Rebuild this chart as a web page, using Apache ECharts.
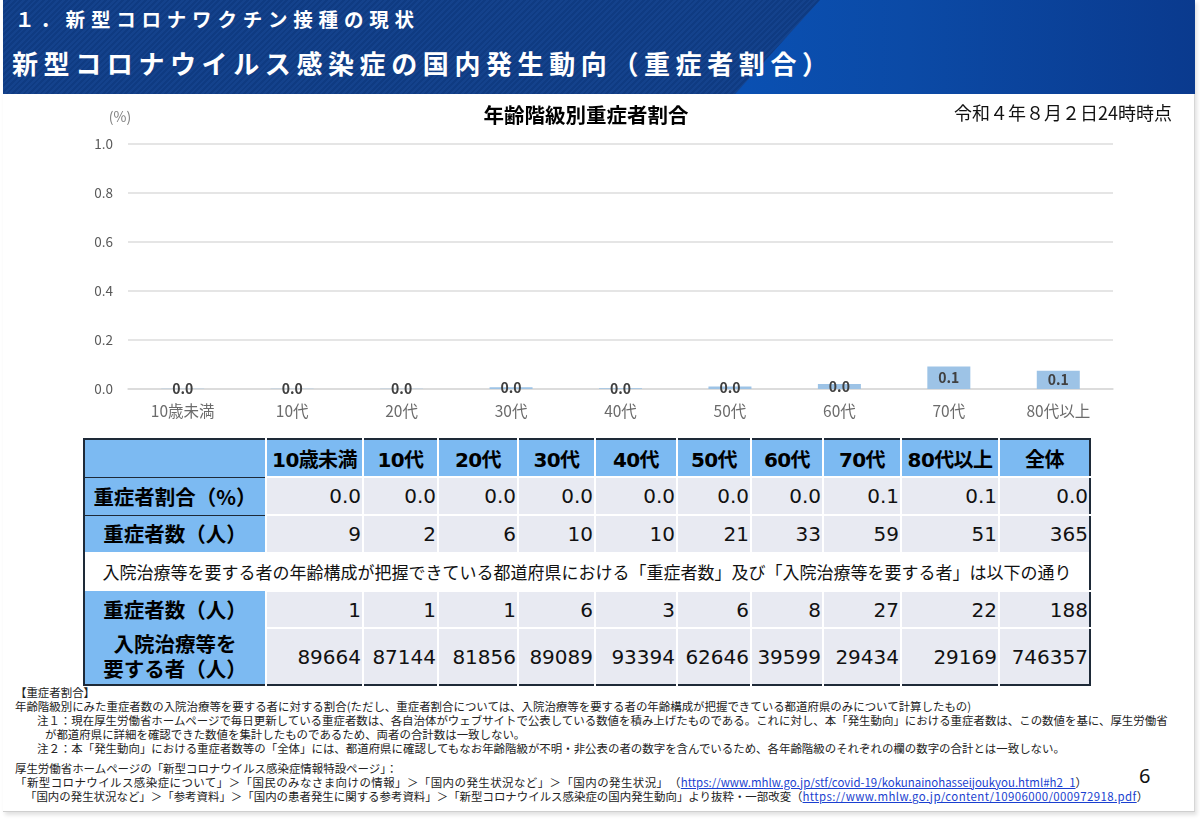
<!DOCTYPE html>
<html lang="ja">
<head>
<meta charset="utf-8">
<title>重症者割合</title>
<script src="https://cdn.jsdelivr.net/npm/echarts@6/dist/echarts.min.js"></script>
<style>
  html, body { margin: 0; padding: 0; background: #fff; }
  body { width: 1200px; height: 823px; position: relative; overflow: hidden;
         font-family: "Noto Sans CJK JP", "Noto Sans", sans-serif; color: #111; }
  .slide { position: absolute; left: 3px; top: 0; width: 1191px; height: 811px;
           border-right: 1px solid #d6d6d6; border-bottom: 1px solid #cfcfcf;
           box-shadow: 2px 3px 4px rgba(0,0,0,0.12); background: #fff; }
  .band { position: absolute; left: 3px; top: 0; width: 1192px; height: 94px;
          background: linear-gradient(90deg, #0b48a4 0%, #0a50b2 62%, #0b4aa6 76%, #0a3a8e 100%); }
  .hatch { position: absolute; left: 0; top: 0; width: 100%; height: 100%;
           clip-path: polygon(0 0, 817px 0, 732px 94px, 0 94px);
           background: repeating-linear-gradient(135deg, #0f3b82 0 2px, #14428c 2px 4px); }
  .h1 { position: absolute; left: 15px; top: 6px; color: #fff; font-weight: bold;
        font-size: 19.5px; letter-spacing: 5.8px; line-height: 26px; white-space: nowrap; }
  .h2 { position: absolute; left: 12px; top: 47px; color: #fff; font-weight: bold;
        font-size: 26px; letter-spacing: 5.6px; line-height: 32px; white-space: nowrap; }
  #chart { position: absolute; left: 0; top: 95px; width: 1200px; height: 340px; }
  table { position: absolute; left: 83px; top: 438px; width: 1006px; border-collapse: collapse;
          table-layout: fixed; border: 2px solid #1e2a38; }
  td { padding: 0 3px; overflow: hidden; white-space: nowrap; box-sizing: border-box; }
  td.rh { background: #7cbaf2; color: #000; font-weight: bold; font-size: 20.5px; text-align: center;
          border-right: 1.5px solid #1e2a38; line-height: 25px; }
  td.ch { background: #7cbaf2; color: #000; font-weight: bold; font-size: 20px; text-align: center;
          border-left: 2px solid #fff; padding: 0 1px;
          font-family: "DejaVu Sans", "Noto Sans CJK JP", sans-serif; letter-spacing: -0.6px; }
  td.v { background: #e8eaf2; color: #111; font-size: 20px; text-align: right;
         border-left: 2px solid #fff; border-top: 2px solid #fff;
         font-family: "DejaVu Sans", sans-serif; padding-right: 1px; }
  tr.hdr td { border-bottom: 1.2px solid #1e2a38; }
  tr.r1 td { border-bottom: 1.5px solid #1e2a38; }
  td.note { background: #fff; text-align: center; font-size: 17px; color: #111; }
  .notes div { position: absolute; font-size: 11.45px; line-height: 14px; color: #222; white-space: nowrap; }
  .notes a { color: #1a3fd0; text-decoration: underline; }
  .pg { position: absolute; left: 1139px; top: 762px; font-size: 20px; color: #111;
        font-family: "Noto Sans", sans-serif; }
</style>
</head>
<body>
<div class="slide"></div>
<div class="band"><div class="hatch"></div></div>
<div class="h1">１．新型コロナワクチン接種の現状</div>
<div class="h2">新型コロナウイルス感染症の国内発生動向（重症者割合）</div>
<div id="chart"></div>
<table id="tbl"></table>
<div class="notes">
  <div style="left:15px;top:685px">【重症者割合】</div>
  <div style="left:15px;top:699px">年齢階級別にみた重症者数の入院治療等を要する者に対する割合(ただし、重症者割合については、入院治療等を要する者の年齢構成が把握できている都道府県のみについて計算したもの)</div>
  <div style="left:37px;top:713px">注１：現在厚生労働省ホームページで毎日更新している重症者数は、各自治体がウェブサイトで公表している数値を積み上げたものである。これに対し、本「発生動向」における重症者数は、この数値を基に、厚生労働省</div>
  <div style="left:45px;top:727px">が都道府県に詳細を確認できた数値を集計したものであるため、両者の合計数は一致しない。</div>
  <div style="left:37px;top:741px">注２：本「発生動向」における重症者数等の「全体」には、都道府県に確認してもなお年齢階級が不明・非公表の者の数字を含んでいるため、各年齢階級のそれぞれの欄の数字の合計とは一致しない。</div>
  <div style="left:15px;top:761px">厚生労働省ホームページの「新型コロナウイルス感染症情報特設ページ」：</div>
  <div style="left:15px;top:775px"><span style="letter-spacing:0.45px">「新型コロナウイルス感染症について」＞「国民のみなさま向けの情報」＞「国内の発生状況など」＞「国内の発生状況」　（</span><a>https://www.mhlw.go.jp/stf/covid-19/kokunainohasseijoukyou.html#h2_1</a>）</div>
  <div style="left:25px;top:789px">「国内の発生状況など」＞「参考資料」＞「国内の患者発生に関する参考資料」＞「新型コロナウイルス感染症の国内発生動向」より抜粋・一部改変（<a style="letter-spacing:0.4px">https://www.mhlw.go.jp/content/10906000/000972918.pdf</a>）</div>
</div>
<div class="pg">6</div>
<script>
// 年齢階級
var ageGroups = ['10歳未満', '10代', '20代', '30代', '40代', '50代', '60代', '70代', '80代以上'];
// 重症者割合（%）グラフ用
var severeRatio = [0.001, 0.001, 0.001, 0.007, 0.003, 0.010, 0.020, 0.092, 0.075];
var yTicks = [0, 0.2, 0.4, 0.6, 0.8, 1.0];

// 表
var tableCols = ageGroups.concat(['全体']);
var ratioRow = [0.0, 0.0, 0.0, 0.0, 0.0, 0.0, 0.0, 0.1, 0.1, 0.0];
var severeAll = [9, 2, 6, 10, 10, 21, 33, 59, 51, 365];
var severeKnown = [1, 1, 1, 6, 3, 6, 8, 27, 22, 188];
var inpatients = [89664, 87144, 81856, 89089, 93394, 62646, 39599, 29434, 29169, 746357];
var colWidths = [182, 97, 75, 80, 77, 82, 74, 72, 78, 98, 91];

function buildTable() {
  var t = document.getElementById('tbl');
  var html = '<colgroup>';
  colWidths.forEach(function (w) { html += '<col style="width:' + w + 'px">'; });
  html += '</colgroup>';
  html += '<tr class="hdr" style="height:38px"><td class="rh"></td>';
  tableCols.forEach(function (c) { html += '<td class="ch">' + c + '</td>'; });
  html += '</tr>';
  function row(cls, h, label, vals, fmt) {
    var s = '<tr class="' + cls + '" style="height:' + h + 'px"><td class="rh">' + label + '</td>';
    vals.forEach(function (v) { s += '<td class="v">' + fmt(v) + '</td>'; });
    return s + '</tr>';
  }
  var plain = function (v) { return String(v); };
  html += row('r1', 38, '重症者割合（%）', ratioRow, function (v) { return v.toFixed(1); });
  html += row('r2', 37, '重症者数（人）', severeAll, plain);
  html += '<tr style="height:39px"><td class="note" colspan="11">入院治療等を要する者の年齢構成が把握できている都道府県における「重症者数」及び「入院治療等を要する者」は以下の通り</td></tr>';
  html += row('r4', 37, '重症者数（人）', severeKnown, plain);
  html += row('r5', 57, '入院治療等を<br>要する者（人）', inpatients, plain);
  t.innerHTML = html;
}
buildTable();

var myChart = echarts.init(document.getElementById('chart'));
var option = {
  animation: false,
  grid: { left: 128, right: 87, top: 49, bottom: 46 },
  graphic: [{
    type: 'text', x: 586, y: 20,
    style: { text: '年齢階級別重症者割合', fill: '#000', font: 'bold 20.5px "Noto Sans CJK JP"',
             textAlign: 'center', textVerticalAlign: 'middle' }
  }, {
    type: 'text', x: 1172, y: 18,
    style: { text: '令和４年８月２日24時時点', fill: '#111', font: '18px "Noto Sans CJK JP"',
             textAlign: 'right', textVerticalAlign: 'middle' }
  }],
  xAxis: {
    type: 'category',
    data: ageGroups,
    axisTick: { show: false },
    axisLine: { lineStyle: { color: '#d9d9d9', width: 1.5 } },
    axisLabel: { color: '#6b6b6b', fontSize: 15.5, margin: 14, fontFamily: 'Noto Sans CJK JP' }
  },
  yAxis: {
    type: 'value',
    min: yTicks[0],
    max: yTicks[yTicks.length - 1],
    interval: 0.2,
    name: '(%)',
    nameGap: 20,
    nameTextStyle: { color: '#7f7f7f', fontSize: 14, padding: [0, 16, 0, 0], fontFamily: 'Noto Sans CJK JP' },
    axisLine: { show: false },
    axisTick: { show: false },
    splitLine: { lineStyle: { color: '#dcdcdc', width: 1.5 } },
    axisLabel: { color: '#595959', fontSize: 13.5, margin: 15, fontFamily: 'Noto Sans CJK JP',
                 formatter: function (v) { return v.toFixed(1); } }
  },
  series: [{
    type: 'bar',
    data: severeRatio,
    barWidth: 43,
    itemStyle: { color: '#9dc3e6' },
    label: {
      show: true,
      position: 'inside',
      color: '#404040',
      fontWeight: 'bold',
      fontSize: 14,
      fontFamily: 'Noto Sans CJK JP',
      formatter: function (p) { return p.value.toFixed(1); }
    }
  }]
};
myChart.setOption(option);
</script>
</body>
</html>
